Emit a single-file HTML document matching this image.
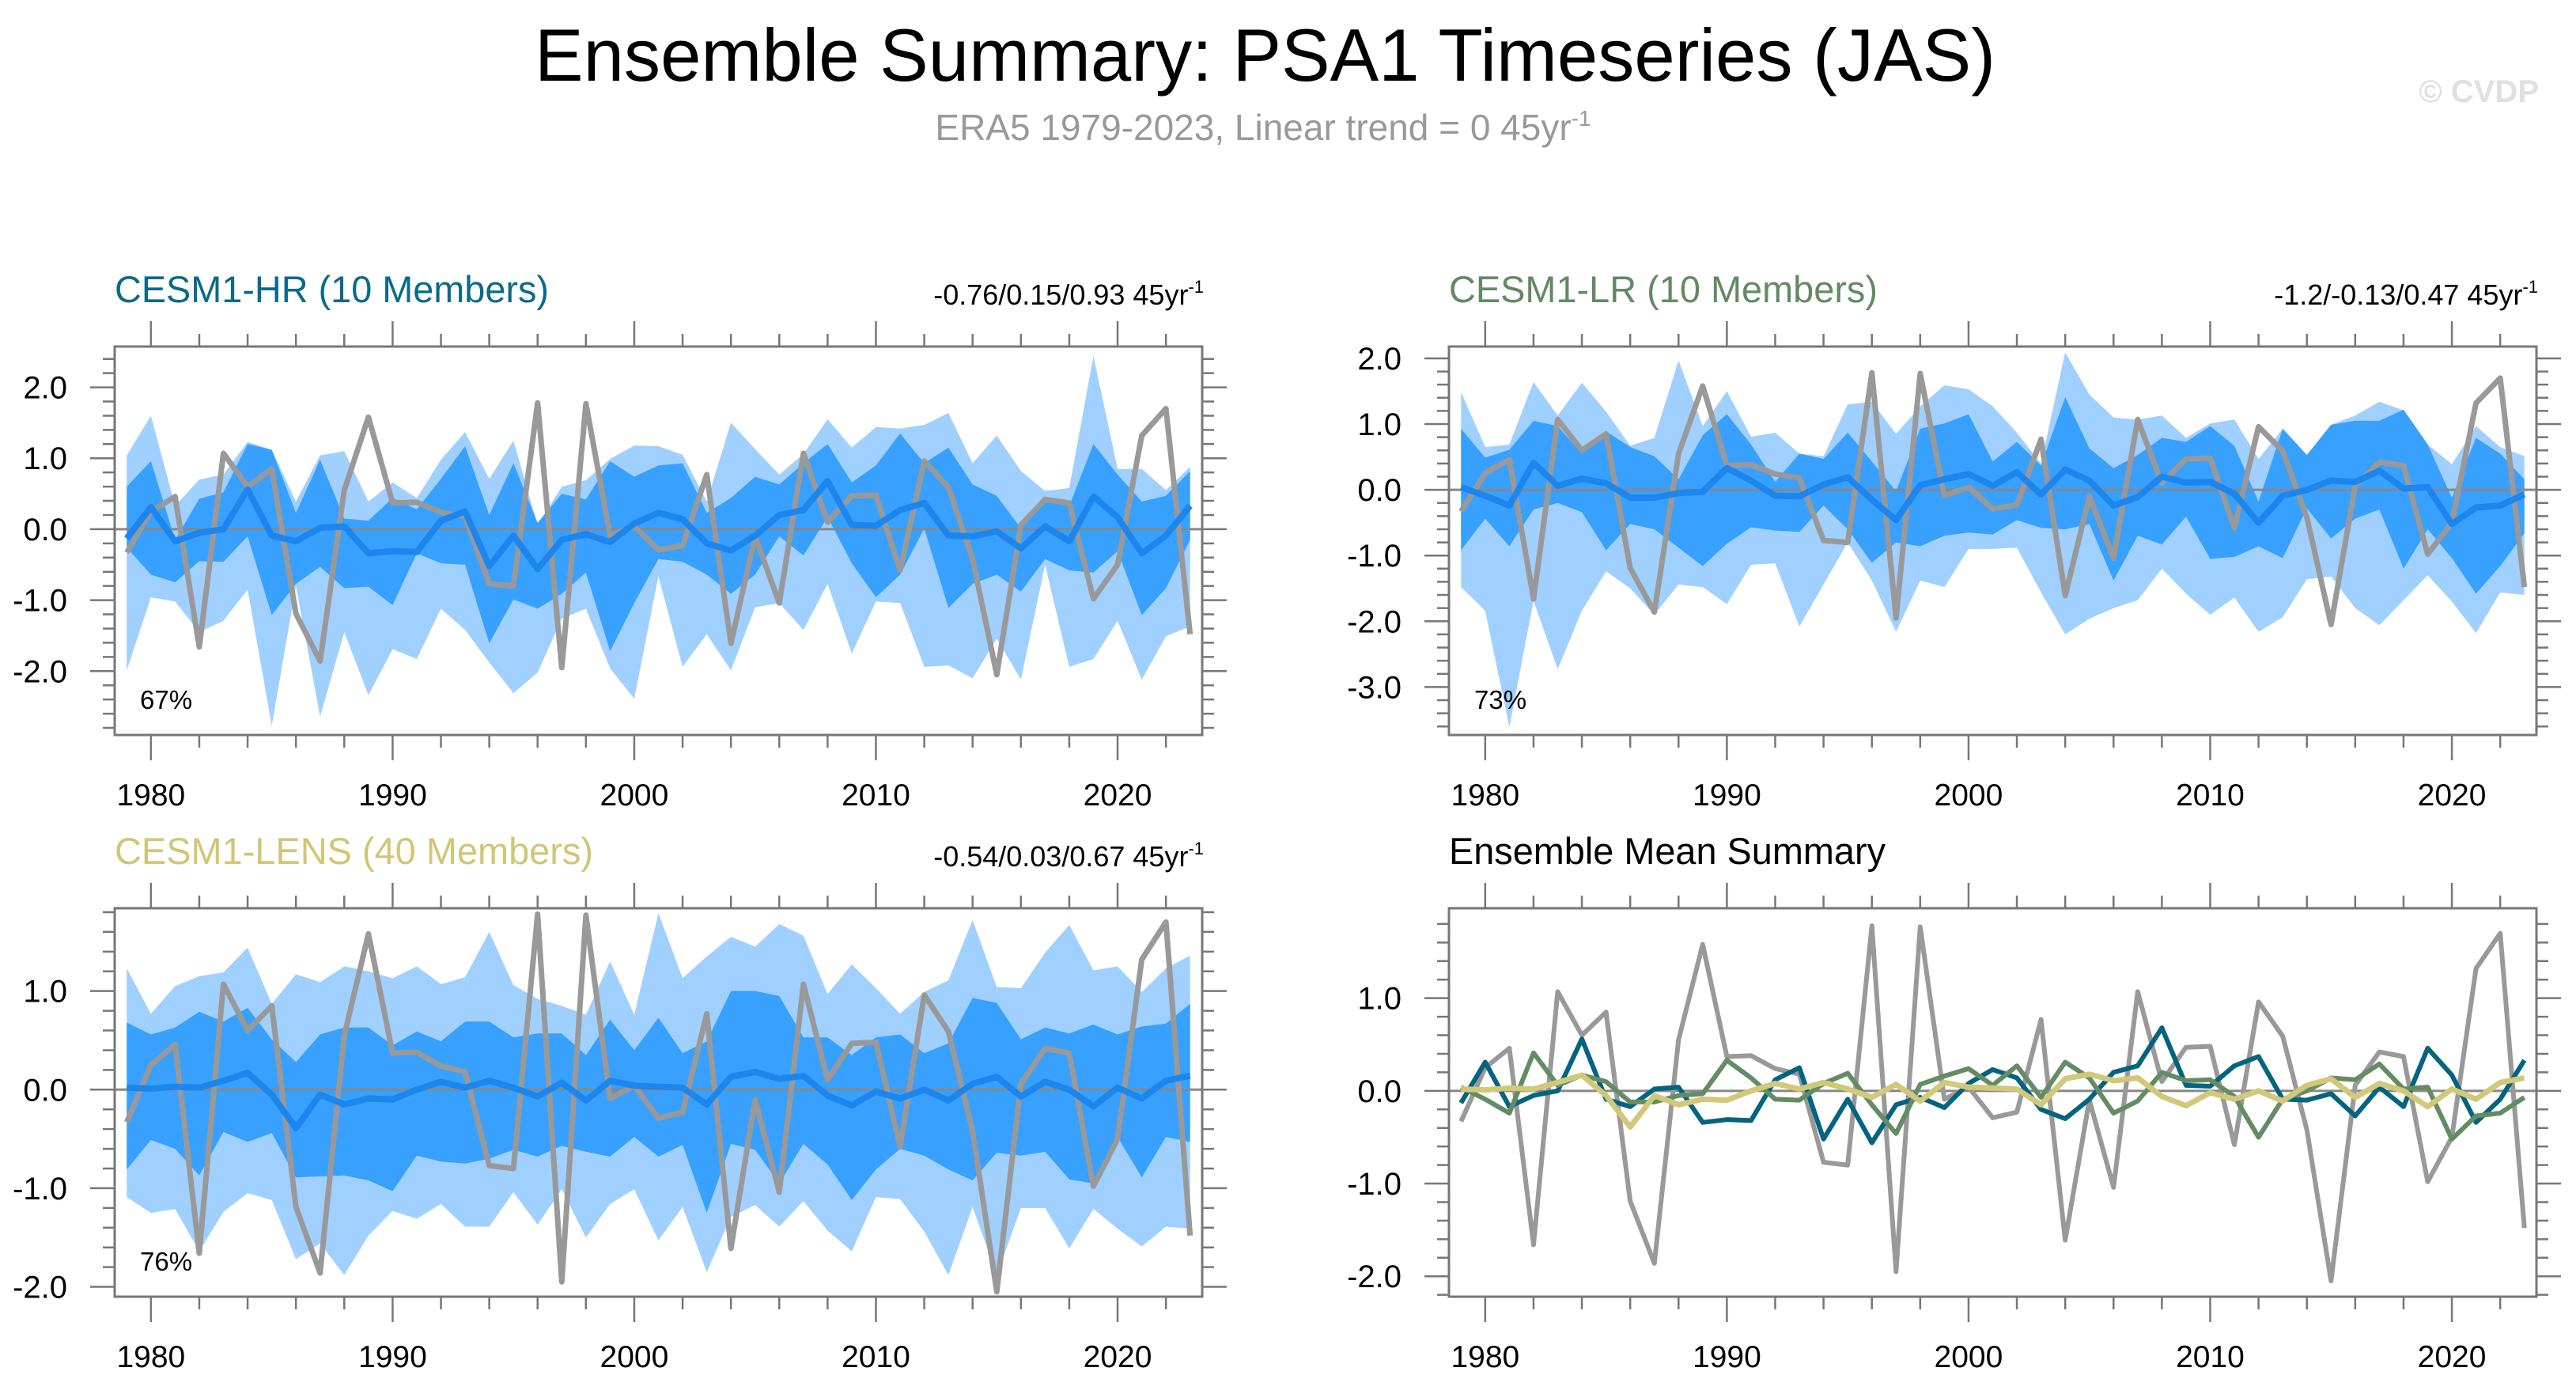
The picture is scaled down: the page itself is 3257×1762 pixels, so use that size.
<!DOCTYPE html>
<html><head><meta charset="utf-8">
<style>
html,body{margin:0;padding:0;background:#fff;}
svg{display:block;font-family:"Liberation Sans",Arial,sans-serif;}
</style></head>
<body>
<svg id="fig" width="3257" height="1762" viewBox="0 0 3257 1762" xmlns="http://www.w3.org/2000/svg">
  <text x="676" y="102" font-size="94" textLength="1847" lengthAdjust="spacingAndGlyphs" fill="#000">Ensemble Summary: PSA1 Timeseries (JAS)</text>
  <text x="1597" y="177" font-size="46" text-anchor="middle" fill="#999">ERA5 1979-2023, Linear trend = 0 45yr<tspan dy="-18" font-size="28">-1</tspan></text>
  <text x="3210" y="129" font-size="40" font-weight="bold" text-anchor="end" fill="#e0e0e0">© CVDP</text>
</svg>
<script>
// ---- data ----
const years = [];
for (let y = 1979; y <= 2023; y++) years.push(y);
const obsERA5 = [-0.33,0.25,0.46,-1.66,1.07,0.60,0.85,-1.19,-1.86,0.55,1.58,0.37,0.38,0.24,0.18,-0.77,-0.80,1.78,-1.95,1.77,-0.09,0.04,-0.29,-0.23,0.77,-1.61,-0.10,-1.04,1.07,0.10,0.47,0.48,-0.58,0.96,0.59,-0.42,-2.05,0.06,0.42,0.37,-0.98,-0.50,1.32,1.70,-1.48];
const hrMean = [-0.13,0.31,-0.17,-0.05,0.00,0.56,-0.09,-0.17,0.02,0.04,-0.34,-0.31,-0.32,0.12,0.25,-0.52,-0.09,-0.56,-0.15,-0.07,-0.18,0.08,0.23,0.14,-0.20,-0.30,-0.09,0.20,0.27,0.68,0.06,0.05,0.27,0.37,-0.09,-0.10,-0.03,-0.27,0.04,-0.17,0.46,0.17,-0.34,-0.09,0.33];
const lrMean = [0.04,-0.09,-0.24,0.41,0.06,0.17,0.10,-0.12,-0.12,-0.05,-0.03,0.33,0.14,-0.09,-0.10,0.08,0.19,-0.15,-0.46,0.07,0.16,0.24,0.06,0.27,-0.07,0.31,0.14,-0.24,-0.11,0.20,0.11,0.12,-0.06,-0.50,-0.09,0.00,0.14,0.12,0.29,0.02,0.04,-0.52,-0.27,-0.24,-0.07];
const lensMean = [0.02,0.01,0.03,0.02,0.09,0.17,-0.05,-0.39,-0.05,-0.15,-0.09,-0.10,0.00,0.08,0.02,0.09,0.02,-0.07,0.07,-0.11,0.09,0.04,0.03,0.02,-0.15,0.13,0.18,0.11,0.14,-0.06,-0.16,-0.02,-0.09,0.00,-0.11,0.06,0.13,-0.07,0.08,0.00,-0.17,0.02,-0.09,0.09,0.14];

const hrMax = [1.04,1.6,0.33,0.7,0.77,1.23,1.12,0.39,1.04,1.1,0.39,0.66,0.44,0.98,1.37,0.71,1.25,0.06,0.6,0.69,0.99,1.18,1.17,1.05,0.39,1.5,1.13,0.77,1.06,1.55,1.15,1.44,1.42,1.47,1.64,0.93,1.32,0.82,0.54,0.58,2.44,0.85,0.85,0.55,0.88];
const hrMin = [-1.99,-0.96,-1.02,-1.45,-1.29,-0.85,-2.77,-0.8,-2.64,-1.45,-2.34,-1.69,-1.83,-1.12,-1.42,-1.88,-2.31,-2.02,-1.26,-1.12,-1.96,-2.39,-0.66,-1.94,-1.48,-1.99,-1.1,-1.04,-1.42,-0.77,-1.75,-1.02,-1.04,-1.94,-1.92,-2.1,-1.54,-2.12,-0.5,-1.94,-1.83,-1.29,-2.12,-1.51,-1.37];
const hrUpper = [0.6,0.96,-0.15,0.43,0.52,1.2,1.12,0.23,0.98,0.15,0.12,0.44,0.28,0.71,1.17,0.2,0.93,0.09,0.5,0.42,0.96,0.74,0.9,0.93,0.23,0.44,0.74,0.63,0.93,1.2,0.66,0.9,1.35,0.93,1.15,0.63,0.47,0.01,0.44,0.33,1.2,0.77,0.39,0.47,0.82];
const hrLower = [-0.26,-0.64,-0.75,-0.45,-0.46,-0.1,-1.21,-0.77,-0.53,-0.83,-0.81,-1.07,-0.34,-0.48,-0.5,-1.61,-0.99,-1.12,-0.91,-0.61,-1.72,-1.04,-0.42,-0.46,-0.64,-0.91,-0.64,-0.1,-0.37,0.17,-0.48,-0.96,-0.64,0.01,-1.11,-0.77,-0.64,-0.88,-0.42,-0.58,-0.61,-0.31,-1.21,-0.83,-0.15];

const lrMax = [1.49,0.65,0.69,1.64,1.13,1.63,1.19,0.67,0.79,1.97,0.97,1.5,0.81,0.87,0.55,0.51,1.3,1.34,0.85,1.27,1.59,1.53,1.27,0.87,0.4,2.09,1.45,1.1,1.07,1.13,0.79,1.01,1.07,0.47,0.93,0.53,0.99,1.13,1.34,1.21,0.69,0.39,0.97,0.65,0.51];
const lrMin = [-1.48,-1.84,-3.61,-1.69,-2.73,-1.84,-1.24,-1.5,-1.9,-1.44,-1.48,-1.74,-1.14,-1.12,-2.08,-1.44,-0.8,-1.38,-2.16,-1.38,-1.48,-0.9,-0.9,-0.88,-1.56,-2.2,-1.96,-1.8,-1.68,-1.2,-1.58,-1.9,-1.64,-2.16,-1.94,-1.36,-1.32,-1.8,-2.06,-1.68,-1.3,-1.7,-2.18,-1.56,-1.6];
const lrUpper = [0.93,0.49,0.61,1.05,0.97,0.55,0.89,0.65,0.51,0.16,0.83,1.15,0.69,0.12,0.55,0.47,0.87,0.43,-0.02,0.93,1.01,1.15,0.43,0.73,0.37,1.41,0.63,0.33,0.53,0.79,0.73,0.97,0.67,-0.18,0.93,0.53,0.99,1.05,1.05,1.22,0.69,-0.12,0.79,0.55,0.16];
const lrLower = [-0.92,-0.44,-0.86,-0.3,-0.2,-0.34,-0.92,-0.52,-0.6,-0.88,-1.16,-0.82,-0.57,-0.62,-0.64,-0.24,-0.6,-1.11,-0.8,-0.86,-0.7,-0.65,-0.68,-0.46,-0.58,-0.6,-0.52,-1.38,-0.7,-0.83,-0.41,-1.05,-1.02,-0.86,-1.04,-0.28,-0.74,-0.44,-0.3,-1.2,-0.6,-1.04,-1.58,-1.16,-0.66];

const lensMax = [1.23,0.77,1.05,1.15,1.19,1.44,0.87,1.17,1.09,1.25,1.2,1.13,1.25,1.07,1.14,1.6,1.06,0.92,0.85,0.76,1.3,0.76,1.79,1.13,1.35,1.55,1.45,1.68,1.56,0.97,1.27,1.03,0.77,0.99,1.11,1.72,1.04,1.03,1.39,1.67,1.21,1.25,0.99,1.23,1.36];
const lensMin = [-1.09,-1.25,-1.21,-1.64,-1.24,-1.05,-1.12,-1.72,-1.56,-1.88,-1.48,-1.23,-1.31,-1.16,-1.39,-1.39,-1.04,-1.37,-1.01,-1.5,-1.16,-1.01,-1.53,-1.19,-1.85,-1.29,-1.17,-1.39,-1.13,-1.43,-1.64,-1.09,-1.11,-1.44,-1.88,-1.19,-1.88,-1.2,-1.2,-1.61,-1.21,-1.41,-1.59,-1.39,-1.41];
const lensUpper = [0.68,0.56,0.63,0.79,0.69,0.83,0.51,0.28,0.56,0.63,0.63,0.45,0.59,0.49,0.69,0.69,0.53,0.57,0.57,0.35,0.71,0.4,0.73,0.37,0.49,1.0,1.0,0.95,0.53,0.53,0.35,0.53,0.56,0.37,0.47,0.93,0.88,0.51,0.63,0.57,0.66,0.56,0.64,0.67,0.87];
const lensLower = [-0.81,-0.51,-0.6,-0.87,-0.43,-0.53,-0.44,-0.89,-0.88,-0.87,-0.92,-1.03,-0.67,-0.73,-0.75,-0.7,-0.61,-0.68,-0.57,-0.63,-0.68,-0.48,-0.68,-0.56,-1.25,-0.55,-0.61,-0.95,-0.55,-0.76,-1.12,-0.81,-0.6,-0.67,-0.81,-0.92,-0.64,-0.67,-0.63,-0.91,-0.95,-0.48,-0.89,-0.48,-0.53];

const xTickLabels = ["1980","1990","2000","2010","2020"];
const yTicksHR = ["2.0","1.0","0.0","-1.0","-2.0"];
const yTicksLR = ["2.0","1.0","0.0","-1.0","-2.0","-3.0"];
const yTicksLENS = ["1.0","0.0","-1.0","-2.0"];
const yTicksSum = ["1.0","0.0","-1.0","-2.0"];

// ---- drawing ----
const NS = "http://www.w3.org/2000/svg";
const svg = document.getElementById('fig');
function mk(tag, attrs, parent) {
  const e = document.createElementNS(NS, tag);
  for (const k in attrs) e.setAttribute(k, attrs[k]);
  (parent || svg).appendChild(e);
  return e;
}

function panel(cfg) {
  const g = mk('g', {});
  
  
  const L = cfg.left, R = cfg.left + 1375, T = cfg.top, B = cfg.top + 491;
  const x0 = 1978.5, x1 = 2023.5;
  const sx = v => L + (v - x0) / (x1 - x0) * (R - L);
  const sy = v => T + (cfg.ymax - v) / (cfg.ymax - cfg.ymin) * (B - T);

  // title
  const t = mk('text', {x: L, y: T - 56, 'font-size': 47, fill: cfg.titleColor, textLength: cfg.titleW, lengthAdjust: 'spacingAndGlyphs'}, g);
  t.textContent = cfg.title;
  
  
  if (cfg.trend) {
    const tr = mk('text', {x: R + 2, y: T - 53, 'font-size': 36, 'text-anchor': 'end', fill: '#000'}, g);
    tr.textContent = cfg.trend;
    const sup = mk('tspan', {dy: -15, 'font-size': 22}, tr);
    sup.textContent = '-1';
    
    
  }

  const poly = (upper, lower, fill, nm) => {
    let pts = years.map((y, i) => sx(y) + ',' + sy(upper[i]));
    for (let i = years.length - 1; i >= 0; i--) pts.push(sx(years[i]) + ',' + sy(lower[i]));
    const p = mk('polygon', {points: pts.join(' '), fill: fill}, g);
    
    
  };
  const line = (vals, color, w, nm) => {
    const p = mk('polyline', {points: years.map((y, i) => sx(y) + ',' + sy(vals[i])).join(' '), fill: 'none', stroke: color, 'stroke-width': w, 'stroke-linejoin': 'round'}, g);
    
    
  };

  if (cfg.bands) {
    poly(cfg.bands[0], cfg.bands[1], '#a0d0ff', 'range-band-minmax');
    poly(cfg.bands[2], cfg.bands[3], '#38a0ff', 'range-band-inner');
  }
  const z = mk('line', {x1: L, x2: R, y1: sy(0), y2: sy(0), stroke: '#888', 'stroke-width': 3}, g);
  
  
  cfg.lines.forEach(l => line(l[0], l[1], l[2], l[3]));

  // frame
  const f = mk('rect', {x: L, y: T, width: R - L, height: B - T, fill: 'none', stroke: '#777', 'stroke-width': 3}, g);
  
  

  // ticks
  let tk = '';
  for (let y = 1980; y <= 2022; y += 2) {
    const major = y % 10 === 0, len = major ? 32 : 16, X = sx(y);
    tk += `M${X},${T}v${-len}M${X},${B}v${len}`;
  }
  const n0 = Math.ceil(cfg.ymin * 5 - 1e-6), n1 = Math.floor(cfg.ymax * 5 + 1e-6);
  for (let n = n0; n <= n1; n++) {
    const major = n % 5 === 0, len = major ? 31 : 15, Y = sy(n / 5);
    tk += `M${L},${Y}h${-len}M${R},${Y}h${len}`;
  }
  const tp = mk('path', {d: tk, stroke: '#777', 'stroke-width': 2.5, fill: 'none'}, g);
  
  

  xTickLabels.forEach(s => {
    const e = mk('text', {x: sx(+s), y: B + 89, 'font-size': 39, 'text-anchor': 'middle', fill: '#000'}, g);
    e.textContent = s;
    
    
  });
  cfg.yTicks.forEach(s => {
    const e = mk('text', {x: L - 60, y: sy(+s) + 14, 'font-size': 40, 'text-anchor': 'end', fill: '#000'}, g);
    e.textContent = s;
    
    
  });
  if (cfg.pct) {
    const e = mk('text', {x: L + 32, y: B - 33, 'font-size': 33, fill: '#000'}, g);
    e.textContent = cfg.pct;
    
    
  }
}

panel({name: 'panel-cesm1-hr', left: 145, top: 438, ymin: -2.9, ymax: 2.575, title: 'CESM1-HR (10 Members)', titleW: 549, titleColor: '#0a6a8a',
  trend: '-0.76/0.15/0.93 45yr', yTicks: yTicksHR, pct: '67%',
  bands: [hrMax, hrMin, hrUpper, hrLower],
  lines: [[obsERA5, '#999', 7, 'obs-line'], [hrMean, '#1c86ee', 8, 'ensemble-mean-line']]});
panel({name: 'panel-cesm1-lr', left: 1832, top: 438, ymin: -3.73, ymax: 2.18, title: 'CESM1-LR (10 Members)', titleW: 542, titleColor: '#628a62',
  trend: '-1.2/-0.13/0.47 45yr', yTicks: yTicksLR, pct: '73%',
  bands: [lrMax, lrMin, lrUpper, lrLower],
  lines: [[obsERA5, '#999', 7, 'obs-line'], [lrMean, '#1c86ee', 8, 'ensemble-mean-line']]});
panel({name: 'panel-cesm1-lens', left: 145, top: 1148, ymin: -2.1, ymax: 1.84, title: 'CESM1-LENS (40 Members)', titleW: 605, titleColor: '#d0c676',
  trend: '-0.54/0.03/0.67 45yr', yTicks: yTicksLENS, pct: '76%',
  bands: [lensMax, lensMin, lensUpper, lensLower],
  lines: [[obsERA5, '#999', 7, 'obs-line'], [lensMean, '#1c86ee', 8, 'ensemble-mean-line']]});
panel({name: 'panel-ensemble-mean-summary', left: 1832, top: 1148, ymin: -2.22, ymax: 1.97, title: 'Ensemble Mean Summary', titleW: 552, titleColor: '#000',
  yTicks: yTicksSum,
  lines: [[obsERA5, '#999', 6, 'obs-line'], [hrMean, '#04647f', 6, 'cesm1-hr-mean-line'], [lrMean, '#648c64', 6, 'cesm1-lr-mean-line'], [lensMean, '#d2c87a', 7, 'cesm1-lens-mean-line']]});
</script>
</body></html>
